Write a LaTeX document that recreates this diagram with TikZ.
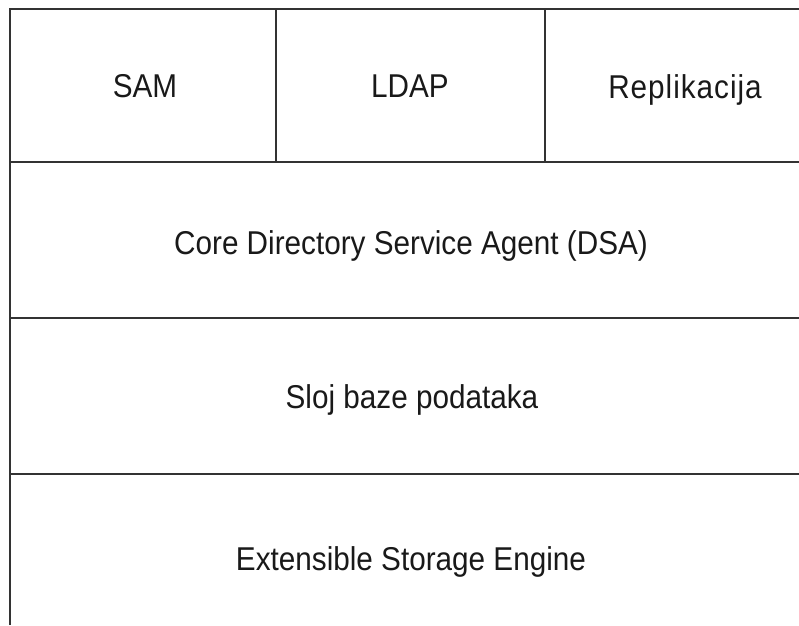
\documentclass[tikz,border=0pt]{standalone}
\usepackage{fontspec}
\setmainfont[FakeStretch=0.9]{Liberation Sans}
\newfontfamily\widesans[FakeStretch=0.9,LetterSpace=3]{Liberation Sans}
\begin{document}
\begin{tikzpicture}[x=1pt,y=-1pt,
  rule/.style={line width=2pt,draw=black!80},
  lbl/.style={font=\fontsize{33}{38}\selectfont,text=black!90,inner sep=0pt,anchor=base}]
\useasboundingbox (0,0) rectangle (799,625);
% frame: top edge, left edge and the row separators
\draw[rule] (10,625) -- (10,9) -- (799,9);
\draw[rule] (10,162) -- (799,162);
\draw[rule] (10,318) -- (799,318);
\draw[rule] (10,474) -- (799,474);
% column separators of the top row
\draw[rule] (276,9) -- (276,162);
\draw[rule] (545,9) -- (545,162);
% labels
\node[lbl] (sam)  at (145,97) {SAM};
\node[lbl] (ldap) at (410,97) {LDAP};
\node[lbl,font=\widesans\fontsize{33}{38}\selectfont] (repl) at (685,98) {Replikacija};
\node[lbl] (dsa)  at (411,254) {Core Directory Service Agent (DSA)};
\node[lbl] (db)   at (412,408) {Sloj baze podataka};
\node[lbl] (ese)  at (411,570) {Extensible Storage Engine};
\end{tikzpicture}
\end{document}
